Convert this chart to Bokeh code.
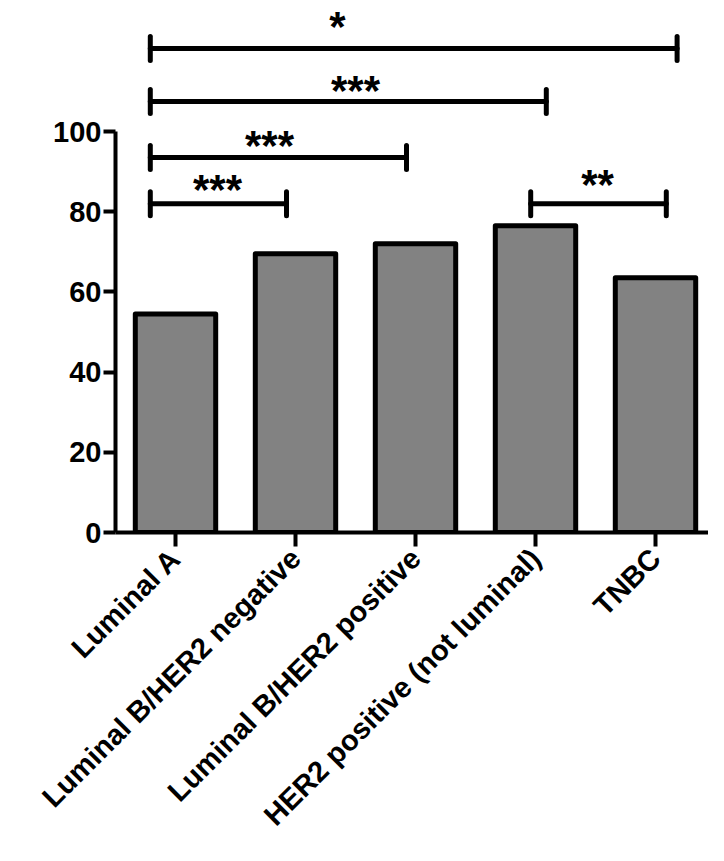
from math import pi
from bokeh.plotting import figure
from bokeh.models import Label, FixedTicker, Range1d
from bokeh.core.properties import value
from bokeh.embed import file_html
from bokeh.resources import INLINE

# ---- data ----
categories = ["Luminal A", "Luminal B/HER2 negative", "Luminal B/HER2 positive",
              "HER2 positive (not luminal)", "TNBC"]
positive_pct = [54.5, 69.5, 72.0, 76.5, 63.5]
y_ticks = [0, 20, 40, 60, 80, 100]

# significance comparisons (start/end in category units, bracket level, star pos)
sig_left = [-0.21, -0.21, -0.21, -0.21, 2.96]
sig_right = [4.18, 3.09, 1.925, 0.925, 4.09]
sig_level = [120.7, 107.5, 93.5, 82.0, 82.0]
sig_label = ["*", "***", "***", "***", "**"]
sig_label_x = [1.35, 1.5, 0.783, 0.35, 3.517]
sig_label_y = [126.2, 110.2, 96.4, 85.5, 86.7]

FONT = "Liberation Sans"

xpos = list(range(len(categories)))

p = figure(width=708, height=845, output_backend="svg", toolbar_location=None,
           x_range=Range1d(-0.5, -0.5 + 593 / 120), y_range=Range1d(0, 132.67),
           min_border_left=115, min_border_right=0, min_border_top=0,
           min_border_bottom=313)
p.outline_line_color = None
p.grid.grid_line_color = None

p.vbar(x=xpos, top=positive_pct, width=0.67, bottom=0,
       fill_color="#828282", line_color="black", line_width=5, line_join="round")

# brackets
p.segment(x0=sig_left, x1=sig_right, y0=sig_level, y1=sig_level,
          line_color="black", line_width=5, line_cap="round")
cap_h = 3.0
p.segment(x0=sig_left, x1=sig_left, y0=[v - cap_h for v in sig_level],
          y1=[v + cap_h for v in sig_level], line_color="black", line_width=5, line_cap="round")
p.segment(x0=sig_right, x1=sig_right, y0=[v - cap_h for v in sig_level],
          y1=[v + cap_h for v in sig_level], line_color="black", line_width=5, line_cap="round")
p.text(x=sig_label_x, y=sig_label_y, text=sig_label, text_font=value(FONT),
       text_font_style="bold", text_font_size="42px", text_align="center",
       text_baseline="alphabetic", text_color="black")

# axes
p.xaxis.ticker = FixedTicker(ticks=xpos)
p.xaxis.major_label_overrides = {i: c for i, c in zip(xpos, categories)}
p.xaxis.major_label_orientation = pi / 4
p.xaxis.major_label_text_font = FONT
p.xaxis.major_label_text_font_style = "bold"
p.xaxis.major_label_text_font_size = "29px"
p.xaxis.major_label_text_color = "black"
p.xaxis.axis_line_width = 4
p.xaxis.major_tick_line_width = 4
p.xaxis.major_tick_out = 14
p.xaxis.major_tick_in = 0
p.xaxis.minor_tick_line_color = None
p.xaxis.major_label_standoff = 7

p.yaxis.ticker = FixedTicker(ticks=y_ticks)
p.yaxis.bounds = (0, 100)
p.yaxis.major_label_text_font = FONT
p.yaxis.major_label_text_font_style = "bold"
p.yaxis.major_label_text_font_size = "29px"
p.yaxis.major_label_text_color = "black"
p.yaxis.axis_line_width = 4
p.yaxis.major_tick_line_width = 4
p.yaxis.major_tick_out = 12
p.yaxis.major_tick_in = 0
p.yaxis.minor_tick_line_color = None
p.yaxis.major_label_standoff = 2

p.add_layout(Label(x=-0.5, y=50, x_offset=-92, angle=pi / 2, text="Clinically positive (%)",
                   text_font=FONT, text_font_style="bold", text_font_size="30px",
                   text_align="center", text_baseline="middle", text_color="black"))

open("out.html", "w").write(file_html(p, INLINE))
